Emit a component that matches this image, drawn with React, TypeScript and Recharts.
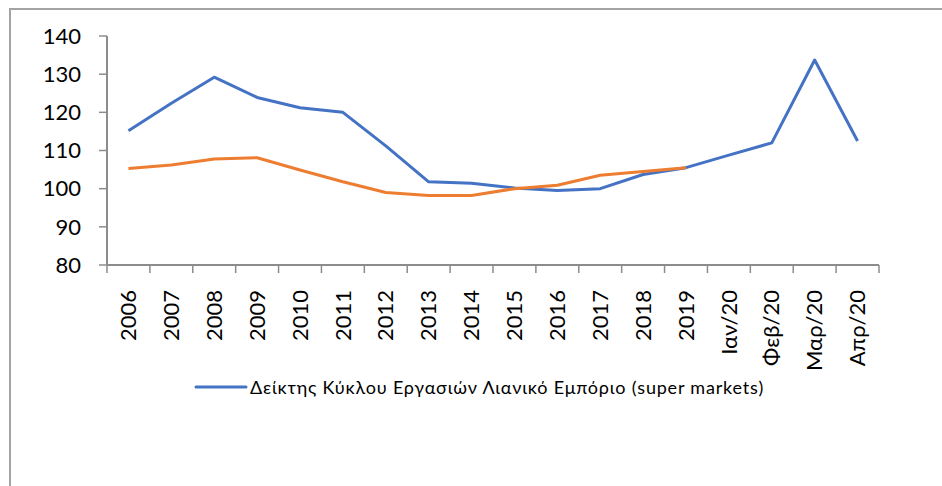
import { LineChart, Line, XAxis, YAxis, Legend } from "recharts";

const categories = [
  "2006", "2007", "2008", "2009", "2010", "2011", "2012", "2013", "2014",
  "2015", "2016", "2017", "2018", "2019", "Ιαν/20", "Φεβ/20", "Μαρ/20", "Απρ/20",
];
const superMarkets = [
  115.2, 122.4, 129.2, 123.9, 121.2, 120.0, 111.2, 101.8, 101.4,
  100.2, 99.5, 100.0, 103.7, 105.5, 108.8, 112.0, 133.7, 112.5,
];
const retailTotal = [
  105.3, 106.2, 107.8, 108.1, 104.9, 101.8, 99.0, 98.2, 98.2,
  100.0, 100.9, 103.5, 104.5, 105.5, null, null, null, null,
];
const yTicks = [80, 90, 100, 110, 120, 130, 140];
const seriesName = "Δείκτης Κύκλου Εργασιών Λιανικό Εμπόριο (super markets)";

const W = 942;
const H = 486;
const margin = { top: 36, right: 63, bottom: 0, left: 0 };
const Y_AXIS_W = 107;
const X_AXIS_H = 221;
const plotW = W - Y_AXIS_W - margin.right;
const step = plotW / categories.length;

const axisColor = "#8c8c8c";
const font = "Lato, 'Open Sans', sans-serif";

const data = categories.map((label, i) => ({
  pos: i + 0.5,
  label,
  sm: superMarkets[i],
  rt: retailTotal[i],
}));

const xTickValues = categories.map((_, i) => i).concat(categories.length);

function CategoryTick(props: any) {
  const { x, y, payload } = props;
  const idx = payload.value;
  if (idx >= categories.length) return <g />;
  const cx = x + step / 2;
  return (
    <text
      x={cx}
      y={y}
      transform={`rotate(-90 ${cx} ${y})`}
      textAnchor="end"
      dy="0.35em"
      fill="#000"
      fontSize={22}
      fontFamily={font}
    >
      {categories[idx]}
    </text>
  );
}

function LegendContent(props: any) {
  const items = (props.payload || []).filter((p: any) => p.type !== "none");
  return (
    <div style={{ display: "flex", alignItems: "center", fontFamily: font, fontSize: 18, letterSpacing: 0.8, color: "#000", whiteSpace: "nowrap" }}>
      {items.map((p: any) => (
        <div key={p.value} style={{ display: "flex", alignItems: "center" }}>
          <svg width={54} height={8} style={{ marginRight: 2 }}>
            <line x1={2} y1={4} x2={52} y2={4} stroke={p.color} strokeWidth={3} strokeLinecap="round" />
          </svg>
          <span>{p.value}</span>
        </div>
      ))}
    </div>
  );
}

export default function App() {
  return (
    <div style={{ position: "absolute", left: 0, top: 0, width: W, height: H, overflow: "hidden", background: "#fff" }}>
      <div
        style={{
          position: "absolute",
          left: 9,
          top: 8,
          width: 2000,
          height: 2000,
          border: "2px solid #a3a3a3",
        }}
      />
      <div style={{ position: "absolute", left: 0, top: 0 }}>
        <LineChart width={W} height={H} data={data} margin={margin}>
          <XAxis
            type="number"
            dataKey="pos"
            domain={[0, categories.length]}
            ticks={xTickValues}
            interval={0}
            height={X_AXIS_H}
            tickSize={8}
            tickMargin={17}
            tick={<CategoryTick />}
            stroke={axisColor}
            axisLine={{ stroke: axisColor, strokeWidth: 2 }}
            tickLine={{ stroke: axisColor, strokeWidth: 1.5 }}
          />
          <YAxis
            type="number"
            domain={[80, 140]}
            ticks={yTicks}
            interval={0}
            width={Y_AXIS_W}
            tickSize={8}
            tickMargin={18}
            axisLine={{ stroke: axisColor, strokeWidth: 2 }}
            tickLine={{ stroke: axisColor, strokeWidth: 1.5 }}
            tick={{ fill: "#000", fontSize: 22, fontFamily: font }}
          />
          <Legend
            layout="horizontal"
            verticalAlign="middle"
            align="center"
            wrapperStyle={{ top: 376, left: 194, width: "auto" }}
            content={<LegendContent />}
          />
          <Line
            type="linear"
            dataKey="sm"
            name={seriesName}
            stroke="#4472C4"
            strokeWidth={3}
            dot={false}
            legendType="plainline"
            strokeLinejoin="round"
            isAnimationActive={false}
          />
          <Line
            type="linear"
            dataKey="rt"
            name="retail"
            stroke="#ED7D31"
            strokeWidth={3}
            dot={false}
            legendType="none"
            strokeLinejoin="round"
            isAnimationActive={false}
          />
        </LineChart>
      </div>
    </div>
  );
}
